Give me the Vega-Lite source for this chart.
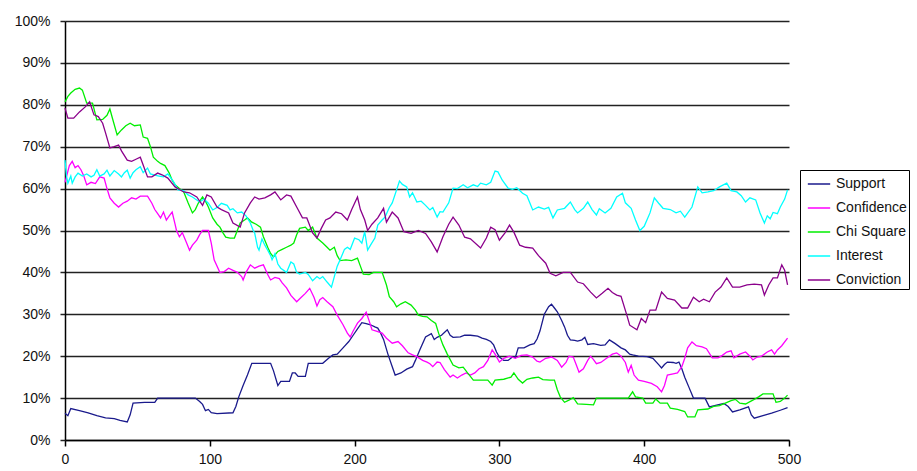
{
"$schema": "https://vega.github.io/schema/vega-lite/v6.json",
"width": 724, "height": 419,
"autosize": "none",
"padding": {"left": 65, "top": 21, "right": 128, "bottom": 31},
"background": "white",
"config": {"view": {"stroke": null}, "font": "Liberation Sans"},
"data": {"values": [
{"s":"Support","x":0,"y":6.4},{"s":"Support","x":2,"y":5.8},{"s":"Support","x":4,"y":7.5},{"s":"Support","x":10,"y":7},{"s":"Support","x":16,"y":6.5},{"s":"Support","x":22,"y":5.8},{"s":"Support","x":28,"y":5.3},{"s":"Support","x":34,"y":5.1},{"s":"Support","x":38,"y":4.7},{"s":"Support","x":43,"y":4.3},{"s":"Support","x":45,"y":6},{"s":"Support","x":47,"y":8.8},{"s":"Support","x":55,"y":9},{"s":"Support","x":62,"y":9},{"s":"Support","x":64,"y":10},{"s":"Support","x":90,"y":10},{"s":"Support","x":93,"y":9.2},{"s":"Support","x":95,"y":8.5},{"s":"Support","x":97,"y":7},{"s":"Support","x":99,"y":7.3},{"s":"Support","x":101,"y":6.5},{"s":"Support","x":105,"y":6.3},{"s":"Support","x":116,"y":6.5},{"s":"Support","x":118,"y":8},{"s":"Support","x":120,"y":10.3},{"s":"Support","x":123,"y":13},{"s":"Support","x":126,"y":15.5},{"s":"Support","x":129,"y":18.3},{"s":"Support","x":142,"y":18.3},{"s":"Support","x":144,"y":16.5},{"s":"Support","x":147,"y":13},{"s":"Support","x":149,"y":14},{"s":"Support","x":155,"y":14},{"s":"Support","x":157,"y":16},{"s":"Support","x":159,"y":16},{"s":"Support","x":161,"y":15.2},{"s":"Support","x":166,"y":15.2},{"s":"Support","x":168,"y":18.3},{"s":"Support","x":178,"y":18.3},{"s":"Support","x":182,"y":19.5},{"s":"Support","x":185,"y":20.3},{"s":"Support","x":188,"y":20.5},{"s":"Support","x":192,"y":22},{"s":"Support","x":196,"y":23.5},{"s":"Support","x":199,"y":25},{"s":"Support","x":202,"y":26.5},{"s":"Support","x":205,"y":28},{"s":"Support","x":208,"y":27.8},{"s":"Support","x":211,"y":27.5},{"s":"Support","x":214,"y":27},{"s":"Support","x":216,"y":26.7},{"s":"Support","x":218,"y":25.5},{"s":"Support","x":220,"y":24},{"s":"Support","x":223,"y":20.5},{"s":"Support","x":226,"y":17.5},{"s":"Support","x":228,"y":15.5},{"s":"Support","x":232,"y":16},{"s":"Support","x":236,"y":16.9},{"s":"Support","x":240,"y":17.5},{"s":"Support","x":242,"y":19},{"s":"Support","x":245,"y":21.5},{"s":"Support","x":249,"y":24.6},{"s":"Support","x":253,"y":25.4},{"s":"Support","x":255,"y":24},{"s":"Support","x":257,"y":24.5},{"s":"Support","x":260,"y":25},{"s":"Support","x":264,"y":26.3},{"s":"Support","x":266,"y":25},{"s":"Support","x":268,"y":24.5},{"s":"Support","x":273,"y":24.6},{"s":"Support","x":276,"y":25},{"s":"Support","x":280,"y":25},{"s":"Support","x":285,"y":24.8},{"s":"Support","x":288,"y":24.3},{"s":"Support","x":291,"y":24},{"s":"Support","x":294,"y":23.5},{"s":"Support","x":296,"y":22.7},{"s":"Support","x":298,"y":21},{"s":"Support","x":300,"y":19.8},{"s":"Support","x":303,"y":19},{"s":"Support","x":306,"y":19},{"s":"Support","x":309,"y":19.8},{"s":"Support","x":311,"y":19.7},{"s":"Support","x":313,"y":22},{"s":"Support","x":317,"y":22},{"s":"Support","x":321,"y":22.7},{"s":"Support","x":324,"y":23},{"s":"Support","x":326,"y":24.1},{"s":"Support","x":328,"y":26},{"s":"Support","x":331,"y":30},{"s":"Support","x":334,"y":31.8},{"s":"Support","x":336,"y":32.4},{"s":"Support","x":338,"y":31.5},{"s":"Support","x":340,"y":30.6},{"s":"Support","x":343,"y":28.5},{"s":"Support","x":345,"y":27},{"s":"Support","x":347,"y":25},{"s":"Support","x":349,"y":23.9},{"s":"Support","x":352,"y":23.8},{"s":"Support","x":354,"y":23.6},{"s":"Support","x":357,"y":23.9},{"s":"Support","x":359,"y":24.5},{"s":"Support","x":361,"y":22.8},{"s":"Support","x":365,"y":23},{"s":"Support","x":370,"y":22.6},{"s":"Support","x":373,"y":22.7},{"s":"Support","x":376,"y":23.9},{"s":"Support","x":380,"y":23},{"s":"Support","x":384,"y":22},{"s":"Support","x":387,"y":21.5},{"s":"Support","x":390,"y":20.5},{"s":"Support","x":392,"y":20.3},{"s":"Support","x":396,"y":20},{"s":"Support","x":402,"y":19.9},{"s":"Support","x":406,"y":19.5},{"s":"Support","x":410,"y":18},{"s":"Support","x":412,"y":17.2},{"s":"Support","x":414,"y":18},{"s":"Support","x":416,"y":18.6},{"s":"Support","x":420,"y":18.5},{"s":"Support","x":422,"y":18.3},{"s":"Support","x":424,"y":18.6},{"s":"Support","x":426,"y":17},{"s":"Support","x":428,"y":15},{"s":"Support","x":431,"y":12.5},{"s":"Support","x":434,"y":10},{"s":"Support","x":442,"y":10},{"s":"Support","x":445,"y":7.9},{"s":"Support","x":450,"y":8.3},{"s":"Support","x":455,"y":8.7},{"s":"Support","x":458,"y":8},{"s":"Support","x":461,"y":6.7},{"s":"Support","x":466,"y":7.2},{"s":"Support","x":472,"y":7.9},{"s":"Support","x":474,"y":6},{"s":"Support","x":476,"y":5.2},{"s":"Support","x":482,"y":5.8},{"s":"Support","x":488,"y":6.4},{"s":"Support","x":494,"y":7.1},{"s":"Support","x":499,"y":7.7},
{"s":"Confidence","x":0,"y":61.5},{"s":"Confidence","x":1,"y":62.8},{"s":"Confidence","x":3,"y":65.5},{"s":"Confidence","x":5,"y":66.5},{"s":"Confidence","x":7,"y":65},{"s":"Confidence","x":9,"y":65.5},{"s":"Confidence","x":11,"y":64.5},{"s":"Confidence","x":13,"y":63},{"s":"Confidence","x":15,"y":60.9},{"s":"Confidence","x":18,"y":61.5},{"s":"Confidence","x":21,"y":61.2},{"s":"Confidence","x":24,"y":62.8},{"s":"Confidence","x":27,"y":62.5},{"s":"Confidence","x":29,"y":60},{"s":"Confidence","x":31,"y":57.8},{"s":"Confidence","x":34,"y":56.5},{"s":"Confidence","x":37,"y":55.6},{"s":"Confidence","x":40,"y":56.5},{"s":"Confidence","x":43,"y":57},{"s":"Confidence","x":46,"y":57.8},{"s":"Confidence","x":49,"y":57.5},{"s":"Confidence","x":52,"y":58.2},{"s":"Confidence","x":57,"y":58.2},{"s":"Confidence","x":60,"y":56.5},{"s":"Confidence","x":62,"y":55},{"s":"Confidence","x":64,"y":54},{"s":"Confidence","x":66,"y":53},{"s":"Confidence","x":68,"y":54.4},{"s":"Confidence","x":70,"y":52.5},{"s":"Confidence","x":72,"y":53.5},{"s":"Confidence","x":74,"y":54.4},{"s":"Confidence","x":76,"y":51.5},{"s":"Confidence","x":77,"y":50},{"s":"Confidence","x":79,"y":48.5},{"s":"Confidence","x":81,"y":49.5},{"s":"Confidence","x":84,"y":47},{"s":"Confidence","x":86,"y":45.3},{"s":"Confidence","x":88,"y":46.5},{"s":"Confidence","x":91,"y":47.7},{"s":"Confidence","x":93,"y":49},{"s":"Confidence","x":95,"y":50},{"s":"Confidence","x":99,"y":50},{"s":"Confidence","x":101,"y":47},{"s":"Confidence","x":103,"y":43},{"s":"Confidence","x":107,"y":40},{"s":"Confidence","x":110,"y":40.2},{"s":"Confidence","x":113,"y":41},{"s":"Confidence","x":116,"y":40.5},{"s":"Confidence","x":119,"y":40},{"s":"Confidence","x":122,"y":39},{"s":"Confidence","x":123,"y":38.2},{"s":"Confidence","x":125,"y":40},{"s":"Confidence","x":128,"y":41.8},{"s":"Confidence","x":131,"y":41},{"s":"Confidence","x":134,"y":41.5},{"s":"Confidence","x":137,"y":41.8},{"s":"Confidence","x":140,"y":39.5},{"s":"Confidence","x":142,"y":38.2},{"s":"Confidence","x":145,"y":38.8},{"s":"Confidence","x":148,"y":38.5},{"s":"Confidence","x":150,"y":37.5},{"s":"Confidence","x":153,"y":36.3},{"s":"Confidence","x":156,"y":34.5},{"s":"Confidence","x":160,"y":33},{"s":"Confidence","x":163,"y":34},{"s":"Confidence","x":166,"y":35},{"s":"Confidence","x":169,"y":36.2},{"s":"Confidence","x":172,"y":34},{"s":"Confidence","x":174,"y":32},{"s":"Confidence","x":176,"y":33.5},{"s":"Confidence","x":178,"y":34},{"s":"Confidence","x":181,"y":33},{"s":"Confidence","x":185,"y":31.8},{"s":"Confidence","x":188,"y":29.8},{"s":"Confidence","x":192,"y":27.5},{"s":"Confidence","x":195,"y":25.5},{"s":"Confidence","x":197,"y":24.6},{"s":"Confidence","x":199,"y":26},{"s":"Confidence","x":202,"y":27.9},{"s":"Confidence","x":205,"y":29},{"s":"Confidence","x":208,"y":30.5},{"s":"Confidence","x":210,"y":28.5},{"s":"Confidence","x":212,"y":26.3},{"s":"Confidence","x":215,"y":26},{"s":"Confidence","x":219,"y":25.5},{"s":"Confidence","x":222,"y":24.3},{"s":"Confidence","x":226,"y":23.1},{"s":"Confidence","x":230,"y":23.5},{"s":"Confidence","x":233,"y":22.5},{"s":"Confidence","x":237,"y":20.8},{"s":"Confidence","x":240,"y":20.3},{"s":"Confidence","x":243,"y":19.9},{"s":"Confidence","x":247,"y":19},{"s":"Confidence","x":250,"y":18.6},{"s":"Confidence","x":252,"y":18.2},{"s":"Confidence","x":254,"y":17.5},{"s":"Confidence","x":257,"y":18.6},{"s":"Confidence","x":259,"y":18.5},{"s":"Confidence","x":262,"y":16.8},{"s":"Confidence","x":266,"y":15},{"s":"Confidence","x":268,"y":15.5},{"s":"Confidence","x":271,"y":14.8},{"s":"Confidence","x":274,"y":15.5},{"s":"Confidence","x":277,"y":16},{"s":"Confidence","x":280,"y":15.5},{"s":"Confidence","x":283,"y":16},{"s":"Confidence","x":286,"y":17},{"s":"Confidence","x":289,"y":17.5},{"s":"Confidence","x":292,"y":19},{"s":"Confidence","x":295,"y":21.5},{"s":"Confidence","x":297,"y":20.5},{"s":"Confidence","x":300,"y":18.6},{"s":"Confidence","x":303,"y":19.5},{"s":"Confidence","x":307,"y":20},{"s":"Confidence","x":311,"y":19.5},{"s":"Confidence","x":315,"y":20.2},{"s":"Confidence","x":319,"y":20.3},{"s":"Confidence","x":323,"y":19.8},{"s":"Confidence","x":326,"y":18.8},{"s":"Confidence","x":328,"y":18.6},{"s":"Confidence","x":332,"y":19.5},{"s":"Confidence","x":336,"y":19.8},{"s":"Confidence","x":340,"y":19},{"s":"Confidence","x":343,"y":17.4},{"s":"Confidence","x":346,"y":18.5},{"s":"Confidence","x":348,"y":20},{"s":"Confidence","x":351,"y":19.8},{"s":"Confidence","x":353,"y":18},{"s":"Confidence","x":355,"y":16.2},{"s":"Confidence","x":358,"y":17},{"s":"Confidence","x":361,"y":19},{"s":"Confidence","x":363,"y":20},{"s":"Confidence","x":365,"y":19.2},{"s":"Confidence","x":367,"y":18.2},{"s":"Confidence","x":370,"y":18.5},{"s":"Confidence","x":374,"y":19.5},{"s":"Confidence","x":378,"y":20.5},{"s":"Confidence","x":381,"y":20.8},{"s":"Confidence","x":384,"y":20},{"s":"Confidence","x":387,"y":18.5},{"s":"Confidence","x":389,"y":16.2},{"s":"Confidence","x":391,"y":17.8},{"s":"Confidence","x":393,"y":15.5},{"s":"Confidence","x":396,"y":14.3},{"s":"Confidence","x":400,"y":14},{"s":"Confidence","x":405,"y":13.5},{"s":"Confidence","x":409,"y":12.7},{"s":"Confidence","x":412,"y":11.5},{"s":"Confidence","x":414,"y":13},{"s":"Confidence","x":416,"y":15.5},{"s":"Confidence","x":420,"y":15.8},{"s":"Confidence","x":423,"y":16},{"s":"Confidence","x":426,"y":17.5},{"s":"Confidence","x":428,"y":19.5},{"s":"Confidence","x":430,"y":22},{"s":"Confidence","x":433,"y":23.4},{"s":"Confidence","x":436,"y":22.5},{"s":"Confidence","x":440,"y":22.2},{"s":"Confidence","x":443,"y":21.8},{"s":"Confidence","x":447,"y":19.6},{"s":"Confidence","x":451,"y":19.6},{"s":"Confidence","x":454,"y":20.2},{"s":"Confidence","x":457,"y":21},{"s":"Confidence","x":460,"y":21.3},{"s":"Confidence","x":462,"y":19.6},{"s":"Confidence","x":466,"y":20.5},{"s":"Confidence","x":470,"y":21},{"s":"Confidence","x":473,"y":20},{"s":"Confidence","x":475,"y":19.1},{"s":"Confidence","x":478,"y":19.8},{"s":"Confidence","x":481,"y":20},{"s":"Confidence","x":485,"y":21},{"s":"Confidence","x":488,"y":21.5},{"s":"Confidence","x":490,"y":20.5},{"s":"Confidence","x":492,"y":21.5},{"s":"Confidence","x":495,"y":22.5},{"s":"Confidence","x":499,"y":24.3},
{"s":"Chi Square","x":0,"y":80.7},{"s":"Chi Square","x":2,"y":82},{"s":"Chi Square","x":4,"y":82.8},{"s":"Chi Square","x":7,"y":83.7},{"s":"Chi Square","x":10,"y":84},{"s":"Chi Square","x":12,"y":83.5},{"s":"Chi Square","x":15,"y":80.4},{"s":"Chi Square","x":19,"y":80.4},{"s":"Chi Square","x":22,"y":76.4},{"s":"Chi Square","x":26,"y":76.5},{"s":"Chi Square","x":29,"y":77.5},{"s":"Chi Square","x":31,"y":79},{"s":"Chi Square","x":33,"y":76.5},{"s":"Chi Square","x":36,"y":72.8},{"s":"Chi Square","x":39,"y":74},{"s":"Chi Square","x":42,"y":75},{"s":"Chi Square","x":45,"y":75.6},{"s":"Chi Square","x":48,"y":75},{"s":"Chi Square","x":52,"y":75.2},{"s":"Chi Square","x":54,"y":72.3},{"s":"Chi Square","x":57,"y":72},{"s":"Chi Square","x":59,"y":70},{"s":"Chi Square","x":61,"y":67.5},{"s":"Chi Square","x":64,"y":66.5},{"s":"Chi Square","x":66,"y":66},{"s":"Chi Square","x":69,"y":65.5},{"s":"Chi Square","x":72,"y":63.7},{"s":"Chi Square","x":74,"y":62},{"s":"Chi Square","x":76,"y":60.9},{"s":"Chi Square","x":79,"y":60},{"s":"Chi Square","x":82,"y":59.2},{"s":"Chi Square","x":85,"y":56.6},{"s":"Chi Square","x":88,"y":54.2},{"s":"Chi Square","x":90,"y":55},{"s":"Chi Square","x":92,"y":56.5},{"s":"Chi Square","x":95,"y":58},{"s":"Chi Square","x":97,"y":57},{"s":"Chi Square","x":99,"y":55.6},{"s":"Chi Square","x":102,"y":53},{"s":"Chi Square","x":105,"y":51.5},{"s":"Chi Square","x":107,"y":50.8},{"s":"Chi Square","x":109,"y":49.5},{"s":"Chi Square","x":111,"y":48.4},{"s":"Chi Square","x":114,"y":48.2},{"s":"Chi Square","x":117,"y":48.2},{"s":"Chi Square","x":119,"y":50},{"s":"Chi Square","x":121,"y":51.8},{"s":"Chi Square","x":124,"y":52.5},{"s":"Chi Square","x":126,"y":53},{"s":"Chi Square","x":129,"y":52},{"s":"Chi Square","x":132,"y":51.5},{"s":"Chi Square","x":135,"y":50.8},{"s":"Chi Square","x":137,"y":48.5},{"s":"Chi Square","x":140,"y":46},{"s":"Chi Square","x":142,"y":44.5},{"s":"Chi Square","x":144,"y":43.7},{"s":"Chi Square","x":147,"y":45},{"s":"Chi Square","x":150,"y":45.5},{"s":"Chi Square","x":153,"y":46},{"s":"Chi Square","x":156,"y":46.5},{"s":"Chi Square","x":158,"y":47},{"s":"Chi Square","x":160,"y":49},{"s":"Chi Square","x":162,"y":50.5},{"s":"Chi Square","x":166,"y":50.8},{"s":"Chi Square","x":168,"y":50},{"s":"Chi Square","x":171,"y":50.8},{"s":"Chi Square","x":174,"y":48.2},{"s":"Chi Square","x":178,"y":47},{"s":"Chi Square","x":181,"y":46},{"s":"Chi Square","x":183,"y":45.3},{"s":"Chi Square","x":186,"y":46},{"s":"Chi Square","x":188,"y":44},{"s":"Chi Square","x":190,"y":42.8},{"s":"Chi Square","x":194,"y":43},{"s":"Chi Square","x":198,"y":42.8},{"s":"Chi Square","x":202,"y":43.4},{"s":"Chi Square","x":204,"y":41.5},{"s":"Chi Square","x":206,"y":39.6},{"s":"Chi Square","x":210,"y":39.5},{"s":"Chi Square","x":213,"y":40},{"s":"Chi Square","x":219,"y":40},{"s":"Chi Square","x":222,"y":37},{"s":"Chi Square","x":224,"y":34.2},{"s":"Chi Square","x":227,"y":33},{"s":"Chi Square","x":229,"y":31.8},{"s":"Chi Square","x":232,"y":32.5},{"s":"Chi Square","x":235,"y":33},{"s":"Chi Square","x":239,"y":32.2},{"s":"Chi Square","x":242,"y":31},{"s":"Chi Square","x":244,"y":29.8},{"s":"Chi Square","x":247,"y":29.5},{"s":"Chi Square","x":250,"y":29.4},{"s":"Chi Square","x":253,"y":28.5},{"s":"Chi Square","x":256,"y":27.8},{"s":"Chi Square","x":258,"y":25.5},{"s":"Chi Square","x":261,"y":22.7},{"s":"Chi Square","x":264,"y":20.5},{"s":"Chi Square","x":268,"y":17.9},{"s":"Chi Square","x":272,"y":17.2},{"s":"Chi Square","x":275,"y":17.4},{"s":"Chi Square","x":278,"y":16},{"s":"Chi Square","x":282,"y":14.3},{"s":"Chi Square","x":287,"y":14.3},{"s":"Chi Square","x":292,"y":14.3},{"s":"Chi Square","x":295,"y":13.1},{"s":"Chi Square","x":297,"y":14.3},{"s":"Chi Square","x":303,"y":14.5},{"s":"Chi Square","x":308,"y":15},{"s":"Chi Square","x":310,"y":16},{"s":"Chi Square","x":313,"y":14.5},{"s":"Chi Square","x":316,"y":13.6},{"s":"Chi Square","x":319,"y":14.5},{"s":"Chi Square","x":323,"y":14.8},{"s":"Chi Square","x":327,"y":15},{"s":"Chi Square","x":330,"y":14.4},{"s":"Chi Square","x":335,"y":14.3},{"s":"Chi Square","x":338,"y":14.3},{"s":"Chi Square","x":340,"y":12},{"s":"Chi Square","x":342,"y":10.3},{"s":"Chi Square","x":345,"y":9},{"s":"Chi Square","x":348,"y":9.5},{"s":"Chi Square","x":351,"y":10.1},{"s":"Chi Square","x":354,"y":8.6},{"s":"Chi Square","x":360,"y":8.5},{"s":"Chi Square","x":365,"y":8.4},{"s":"Chi Square","x":367,"y":10},{"s":"Chi Square","x":389,"y":10},{"s":"Chi Square","x":392,"y":11.5},{"s":"Chi Square","x":394,"y":10.3},{"s":"Chi Square","x":399,"y":10},{"s":"Chi Square","x":401,"y":8.8},{"s":"Chi Square","x":406,"y":8.8},{"s":"Chi Square","x":408,"y":9.8},{"s":"Chi Square","x":411,"y":8.8},{"s":"Chi Square","x":416,"y":8.8},{"s":"Chi Square","x":418,"y":7.6},{"s":"Chi Square","x":423,"y":7.3},{"s":"Chi Square","x":428,"y":6.8},{"s":"Chi Square","x":430,"y":5.5},{"s":"Chi Square","x":435,"y":5.5},{"s":"Chi Square","x":437,"y":7.2},{"s":"Chi Square","x":444,"y":7.4},{"s":"Chi Square","x":448,"y":8},{"s":"Chi Square","x":452,"y":8.2},{"s":"Chi Square","x":456,"y":8.8},{"s":"Chi Square","x":460,"y":9.4},{"s":"Chi Square","x":463,"y":9.7},{"s":"Chi Square","x":466,"y":8.8},{"s":"Chi Square","x":470,"y":8.6},{"s":"Chi Square","x":475,"y":9.5},{"s":"Chi Square","x":479,"y":10.3},{"s":"Chi Square","x":482,"y":11},{"s":"Chi Square","x":489,"y":11},{"s":"Chi Square","x":491,"y":9},{"s":"Chi Square","x":494,"y":9.2},{"s":"Chi Square","x":497,"y":10},{"s":"Chi Square","x":499,"y":10.7},
{"s":"Interest","x":0,"y":66.8},{"s":"Interest","x":1,"y":63},{"s":"Interest","x":2,"y":61.3},{"s":"Interest","x":4,"y":63},{"s":"Interest","x":5,"y":61.3},{"s":"Interest","x":7,"y":62.8},{"s":"Interest","x":9,"y":63.7},{"s":"Interest","x":12,"y":63},{"s":"Interest","x":15,"y":63.5},{"s":"Interest","x":18,"y":62.8},{"s":"Interest","x":20,"y":63.2},{"s":"Interest","x":22,"y":64.5},{"s":"Interest","x":24,"y":63},{"s":"Interest","x":27,"y":63.5},{"s":"Interest","x":29,"y":64.4},{"s":"Interest","x":31,"y":63},{"s":"Interest","x":34,"y":64.3},{"s":"Interest","x":37,"y":63.5},{"s":"Interest","x":39,"y":62.8},{"s":"Interest","x":41,"y":63.8},{"s":"Interest","x":43,"y":64.4},{"s":"Interest","x":45,"y":62.5},{"s":"Interest","x":47,"y":63.8},{"s":"Interest","x":49,"y":64.5},{"s":"Interest","x":52,"y":65.2},{"s":"Interest","x":54,"y":63.8},{"s":"Interest","x":57,"y":64.9},{"s":"Interest","x":59,"y":63.5},{"s":"Interest","x":62,"y":63.2},{"s":"Interest","x":65,"y":63},{"s":"Interest","x":68,"y":62.8},{"s":"Interest","x":71,"y":63.5},{"s":"Interest","x":75,"y":61.6},{"s":"Interest","x":78,"y":59.7},{"s":"Interest","x":82,"y":59.5},{"s":"Interest","x":85,"y":58.5},{"s":"Interest","x":88,"y":58},{"s":"Interest","x":90,"y":57.5},{"s":"Interest","x":93,"y":56.8},{"s":"Interest","x":96,"y":57.5},{"s":"Interest","x":99,"y":56.5},{"s":"Interest","x":102,"y":54.9},{"s":"Interest","x":105,"y":55.5},{"s":"Interest","x":108,"y":56.5},{"s":"Interest","x":112,"y":56},{"s":"Interest","x":114,"y":54.9},{"s":"Interest","x":116,"y":55.2},{"s":"Interest","x":119,"y":54.2},{"s":"Interest","x":122,"y":54.4},{"s":"Interest","x":125,"y":53.5},{"s":"Interest","x":128,"y":51.8},{"s":"Interest","x":130,"y":50},{"s":"Interest","x":131,"y":49.4},{"s":"Interest","x":133,"y":46},{"s":"Interest","x":134,"y":45.3},{"s":"Interest","x":136,"y":48},{"s":"Interest","x":138,"y":46.5},{"s":"Interest","x":140,"y":45.3},{"s":"Interest","x":142,"y":44},{"s":"Interest","x":143,"y":43},{"s":"Interest","x":145,"y":44.5},{"s":"Interest","x":147,"y":42},{"s":"Interest","x":149,"y":41},{"s":"Interest","x":153,"y":40},{"s":"Interest","x":156,"y":42.5},{"s":"Interest","x":158,"y":42},{"s":"Interest","x":160,"y":40},{"s":"Interest","x":162,"y":39.6},{"s":"Interest","x":166,"y":40},{"s":"Interest","x":168,"y":39.5},{"s":"Interest","x":171,"y":38},{"s":"Interest","x":174,"y":39},{"s":"Interest","x":176,"y":38.5},{"s":"Interest","x":178,"y":39},{"s":"Interest","x":181,"y":37.7},{"s":"Interest","x":184,"y":36.5},{"s":"Interest","x":186,"y":39},{"s":"Interest","x":188,"y":41.5},{"s":"Interest","x":190,"y":43},{"s":"Interest","x":193,"y":45.5},{"s":"Interest","x":195,"y":46},{"s":"Interest","x":197,"y":45.5},{"s":"Interest","x":200,"y":48.2},{"s":"Interest","x":203,"y":47.8},{"s":"Interest","x":205,"y":47},{"s":"Interest","x":207,"y":49.7},{"s":"Interest","x":209,"y":45.3},{"s":"Interest","x":211,"y":46.5},{"s":"Interest","x":214,"y":48.2},{"s":"Interest","x":216,"y":51.3},{"s":"Interest","x":219,"y":52.5},{"s":"Interest","x":221,"y":53.2},{"s":"Interest","x":224,"y":55.5},{"s":"Interest","x":226,"y":56.6},{"s":"Interest","x":229,"y":59.7},{"s":"Interest","x":231,"y":61.8},{"s":"Interest","x":233,"y":61},{"s":"Interest","x":236,"y":60.4},{"s":"Interest","x":238,"y":58},{"s":"Interest","x":240,"y":59},{"s":"Interest","x":243,"y":56.8},{"s":"Interest","x":246,"y":57},{"s":"Interest","x":249,"y":56},{"s":"Interest","x":252,"y":54.9},{"s":"Interest","x":254,"y":55.5},{"s":"Interest","x":257,"y":53.2},{"s":"Interest","x":259,"y":54.5},{"s":"Interest","x":261,"y":54.4},{"s":"Interest","x":265,"y":56.6},{"s":"Interest","x":268,"y":60.1},{"s":"Interest","x":271,"y":60},{"s":"Interest","x":275,"y":60.9},{"s":"Interest","x":278,"y":60.2},{"s":"Interest","x":282,"y":60.9},{"s":"Interest","x":285,"y":60.5},{"s":"Interest","x":287,"y":61.3},{"s":"Interest","x":291,"y":60.9},{"s":"Interest","x":294,"y":61.5},{"s":"Interest","x":297,"y":64.2},{"s":"Interest","x":299,"y":64},{"s":"Interest","x":302,"y":62},{"s":"Interest","x":306,"y":60.1},{"s":"Interest","x":309,"y":59.8},{"s":"Interest","x":312,"y":60.2},{"s":"Interest","x":316,"y":58.9},{"s":"Interest","x":319,"y":58.3},{"s":"Interest","x":323,"y":54.9},{"s":"Interest","x":327,"y":55.6},{"s":"Interest","x":331,"y":55.1},{"s":"Interest","x":334,"y":55.5},{"s":"Interest","x":337,"y":53},{"s":"Interest","x":340,"y":54.9},{"s":"Interest","x":345,"y":55.3},{"s":"Interest","x":349,"y":56.8},{"s":"Interest","x":352,"y":55},{"s":"Interest","x":354,"y":54.2},{"s":"Interest","x":358,"y":55.3},{"s":"Interest","x":361,"y":56.8},{"s":"Interest","x":364,"y":55},{"s":"Interest","x":367,"y":53.7},{"s":"Interest","x":369,"y":55.2},{"s":"Interest","x":373,"y":54.2},{"s":"Interest","x":377,"y":55.3},{"s":"Interest","x":381,"y":58},{"s":"Interest","x":385,"y":58.9},{"s":"Interest","x":387,"y":56.6},{"s":"Interest","x":391,"y":55.3},{"s":"Interest","x":394,"y":52.5},{"s":"Interest","x":397,"y":50},{"s":"Interest","x":400,"y":51},{"s":"Interest","x":404,"y":54.2},{"s":"Interest","x":407,"y":57.8},{"s":"Interest","x":410,"y":56.5},{"s":"Interest","x":413,"y":55.3},{"s":"Interest","x":418,"y":55},{"s":"Interest","x":422,"y":54.2},{"s":"Interest","x":425,"y":54.6},{"s":"Interest","x":428,"y":53.2},{"s":"Interest","x":433,"y":55.6},{"s":"Interest","x":437,"y":60.4},{"s":"Interest","x":440,"y":59},{"s":"Interest","x":444,"y":59.2},{"s":"Interest","x":448,"y":59.5},{"s":"Interest","x":452,"y":60.4},{"s":"Interest","x":457,"y":61.3},{"s":"Interest","x":460,"y":59.5},{"s":"Interest","x":464,"y":59.2},{"s":"Interest","x":467,"y":58.3},{"s":"Interest","x":470,"y":56.8},{"s":"Interest","x":473,"y":57.8},{"s":"Interest","x":477,"y":57.3},{"s":"Interest","x":480,"y":54.2},{"s":"Interest","x":483,"y":51.8},{"s":"Interest","x":485,"y":53.5},{"s":"Interest","x":487,"y":52.8},{"s":"Interest","x":489,"y":54.3},{"s":"Interest","x":492,"y":54},{"s":"Interest","x":494,"y":55.6},{"s":"Interest","x":497,"y":57.5},{"s":"Interest","x":499,"y":59.7},
{"s":"Conviction","x":0,"y":79.2},{"s":"Conviction","x":2,"y":76.8},{"s":"Conviction","x":6,"y":76.8},{"s":"Conviction","x":10,"y":78.3},{"s":"Conviction","x":14,"y":79.5},{"s":"Conviction","x":17,"y":80.7},{"s":"Conviction","x":20,"y":77.6},{"s":"Conviction","x":23,"y":77.2},{"s":"Conviction","x":26,"y":75.6},{"s":"Conviction","x":28,"y":73.3},{"s":"Conviction","x":31,"y":69.7},{"s":"Conviction","x":34,"y":70},{"s":"Conviction","x":37,"y":70.4},{"s":"Conviction","x":39,"y":69},{"s":"Conviction","x":43,"y":66.8},{"s":"Conviction","x":46,"y":66.5},{"s":"Conviction","x":49,"y":67},{"s":"Conviction","x":52,"y":67.5},{"s":"Conviction","x":57,"y":62.8},{"s":"Conviction","x":60,"y":62.8},{"s":"Conviction","x":64,"y":63.7},{"s":"Conviction","x":67,"y":63.3},{"s":"Conviction","x":71,"y":62.5},{"s":"Conviction","x":76,"y":60.4},{"s":"Conviction","x":82,"y":59.2},{"s":"Conviction","x":86,"y":59},{"s":"Conviction","x":91,"y":58},{"s":"Conviction","x":95,"y":56},{"s":"Conviction","x":98,"y":58.5},{"s":"Conviction","x":101,"y":58},{"s":"Conviction","x":105,"y":55.6},{"s":"Conviction","x":108,"y":55},{"s":"Conviction","x":113,"y":54.2},{"s":"Conviction","x":116,"y":51.8},{"s":"Conviction","x":121,"y":50.8},{"s":"Conviction","x":124,"y":54.2},{"s":"Conviction","x":128,"y":56.6},{"s":"Conviction","x":131,"y":58},{"s":"Conviction","x":134,"y":57.5},{"s":"Conviction","x":138,"y":57.8},{"s":"Conviction","x":142,"y":58.5},{"s":"Conviction","x":145,"y":59.2},{"s":"Conviction","x":149,"y":57.3},{"s":"Conviction","x":153,"y":58.5},{"s":"Conviction","x":156,"y":58.2},{"s":"Conviction","x":160,"y":55.6},{"s":"Conviction","x":164,"y":53},{"s":"Conviction","x":167,"y":53},{"s":"Conviction","x":171,"y":49.4},{"s":"Conviction","x":174,"y":48.2},{"s":"Conviction","x":177,"y":50.5},{"s":"Conviction","x":180,"y":52.5},{"s":"Conviction","x":183,"y":53},{"s":"Conviction","x":187,"y":54.4},{"s":"Conviction","x":191,"y":54},{"s":"Conviction","x":195,"y":52.5},{"s":"Conviction","x":198,"y":55},{"s":"Conviction","x":202,"y":58},{"s":"Conviction","x":204,"y":55},{"s":"Conviction","x":207,"y":52.5},{"s":"Conviction","x":209,"y":50},{"s":"Conviction","x":212,"y":51.5},{"s":"Conviction","x":216,"y":53},{"s":"Conviction","x":220,"y":55.3},{"s":"Conviction","x":222,"y":52},{"s":"Conviction","x":226,"y":54.4},{"s":"Conviction","x":230,"y":53},{"s":"Conviction","x":234,"y":49.7},{"s":"Conviction","x":239,"y":49.3},{"s":"Conviction","x":244,"y":50},{"s":"Conviction","x":249,"y":49.3},{"s":"Conviction","x":253,"y":47.3},{"s":"Conviction","x":257,"y":44.9},{"s":"Conviction","x":261,"y":48.5},{"s":"Conviction","x":265,"y":51.5},{"s":"Conviction","x":268,"y":53.2},{"s":"Conviction","x":272,"y":51.3},{"s":"Conviction","x":276,"y":48.4},{"s":"Conviction","x":280,"y":48},{"s":"Conviction","x":287,"y":45.8},{"s":"Conviction","x":291,"y":48.2},{"s":"Conviction","x":294,"y":50.8},{"s":"Conviction","x":297,"y":50.2},{"s":"Conviction","x":300,"y":47.7},{"s":"Conviction","x":304,"y":49.5},{"s":"Conviction","x":307,"y":51.3},{"s":"Conviction","x":310,"y":49.6},{"s":"Conviction","x":314,"y":46.5},{"s":"Conviction","x":318,"y":46},{"s":"Conviction","x":323,"y":45.8},{"s":"Conviction","x":327,"y":44},{"s":"Conviction","x":332,"y":42.2},{"s":"Conviction","x":335,"y":39.8},{"s":"Conviction","x":339,"y":39.2},{"s":"Conviction","x":344,"y":40},{"s":"Conviction","x":349,"y":40},{"s":"Conviction","x":354,"y":37.7},{"s":"Conviction","x":358,"y":37.3},{"s":"Conviction","x":363,"y":35.3},{"s":"Conviction","x":367,"y":33.9},{"s":"Conviction","x":371,"y":35},{"s":"Conviction","x":375,"y":36.2},{"s":"Conviction","x":378,"y":35.2},{"s":"Conviction","x":381,"y":34.6},{"s":"Conviction","x":384,"y":34.3},{"s":"Conviction","x":388,"y":29.8},{"s":"Conviction","x":390,"y":27.4},{"s":"Conviction","x":395,"y":26.3},{"s":"Conviction","x":398,"y":29},{"s":"Conviction","x":401,"y":28},{"s":"Conviction","x":404,"y":31},{"s":"Conviction","x":408,"y":31},{"s":"Conviction","x":412,"y":35.3},{"s":"Conviction","x":416,"y":33.8},{"s":"Conviction","x":421,"y":33.4},{"s":"Conviction","x":426,"y":31.5},{"s":"Conviction","x":430,"y":31.5},{"s":"Conviction","x":434,"y":34.1},{"s":"Conviction","x":438,"y":33},{"s":"Conviction","x":441,"y":33.6},{"s":"Conviction","x":445,"y":33},{"s":"Conviction","x":449,"y":35.3},{"s":"Conviction","x":453,"y":36.5},{"s":"Conviction","x":457,"y":38.7},{"s":"Conviction","x":461,"y":36.5},{"s":"Conviction","x":466,"y":36.5},{"s":"Conviction","x":471,"y":37},{"s":"Conviction","x":476,"y":37.2},{"s":"Conviction","x":481,"y":37},{"s":"Conviction","x":483,"y":34.6},{"s":"Conviction","x":486,"y":37},{"s":"Conviction","x":489,"y":38.7},{"s":"Conviction","x":492,"y":38.7},{"s":"Conviction","x":495,"y":41.8},{"s":"Conviction","x":497,"y":40.5},{"s":"Conviction","x":499,"y":37}
]},
"mark": {"type": "line", "strokeWidth": 1.3, "interpolate": "linear"},
"encoding": {
"x": {"field": "x", "type": "quantitative",
 "scale": {"domain": [0, 500], "nice": false},
 "axis": {"title": null, "values": [0,100,200,300,400,500], "grid": false, "domainColor": "#000", "domainWidth": 1.5, "tickColor": "#000", "tickWidth": 1.5, "tickSize": 6, "labelFontSize": 14, "labelColor": "#111", "labelPadding": 6, "labelFont": "Liberation Sans", "labelFlush": false}},
"y": {"field": "y", "type": "quantitative",
 "scale": {"domain": [0, 100], "nice": false},
 "axis": {"title": null, "values": [0,10,20,30,40,50,60,70,80,90,100], "labelExpr": "datum.value + '%'", "grid": true, "gridColor": "#222", "gridWidth": 1.5, "domainColor": "#000", "domainWidth": 1.5, "tickColor": "#222", "tickWidth": 1.5, "tickSize": 5, "labelFontSize": 14, "labelColor": "#111", "labelPadding": 10, "labelFont": "Liberation Sans"}},
"color": {"field": "s", "type": "nominal",
 "scale": {"domain": ["Support","Confidence","Chi Square","Interest","Conviction"], "range": ["#1a1a8c","#ff00ff","#00ee00","#00ffff","#8b008b"]},
 "legend": {"title": null, "orient": "none", "legendX": 735, "legendY": 149, "strokeColor": "#000", "fillColor": "#fff", "padding": 2, "symbolOffset": 5, "symbolType": "stroke", "symbolSize": 500, "symbolStrokeWidth": 1.5, "labelFontSize": 14, "labelFont": "Liberation Sans", "labelColor": "#111", "rowPadding": 5, "labelOffset": 5}}
}
}
